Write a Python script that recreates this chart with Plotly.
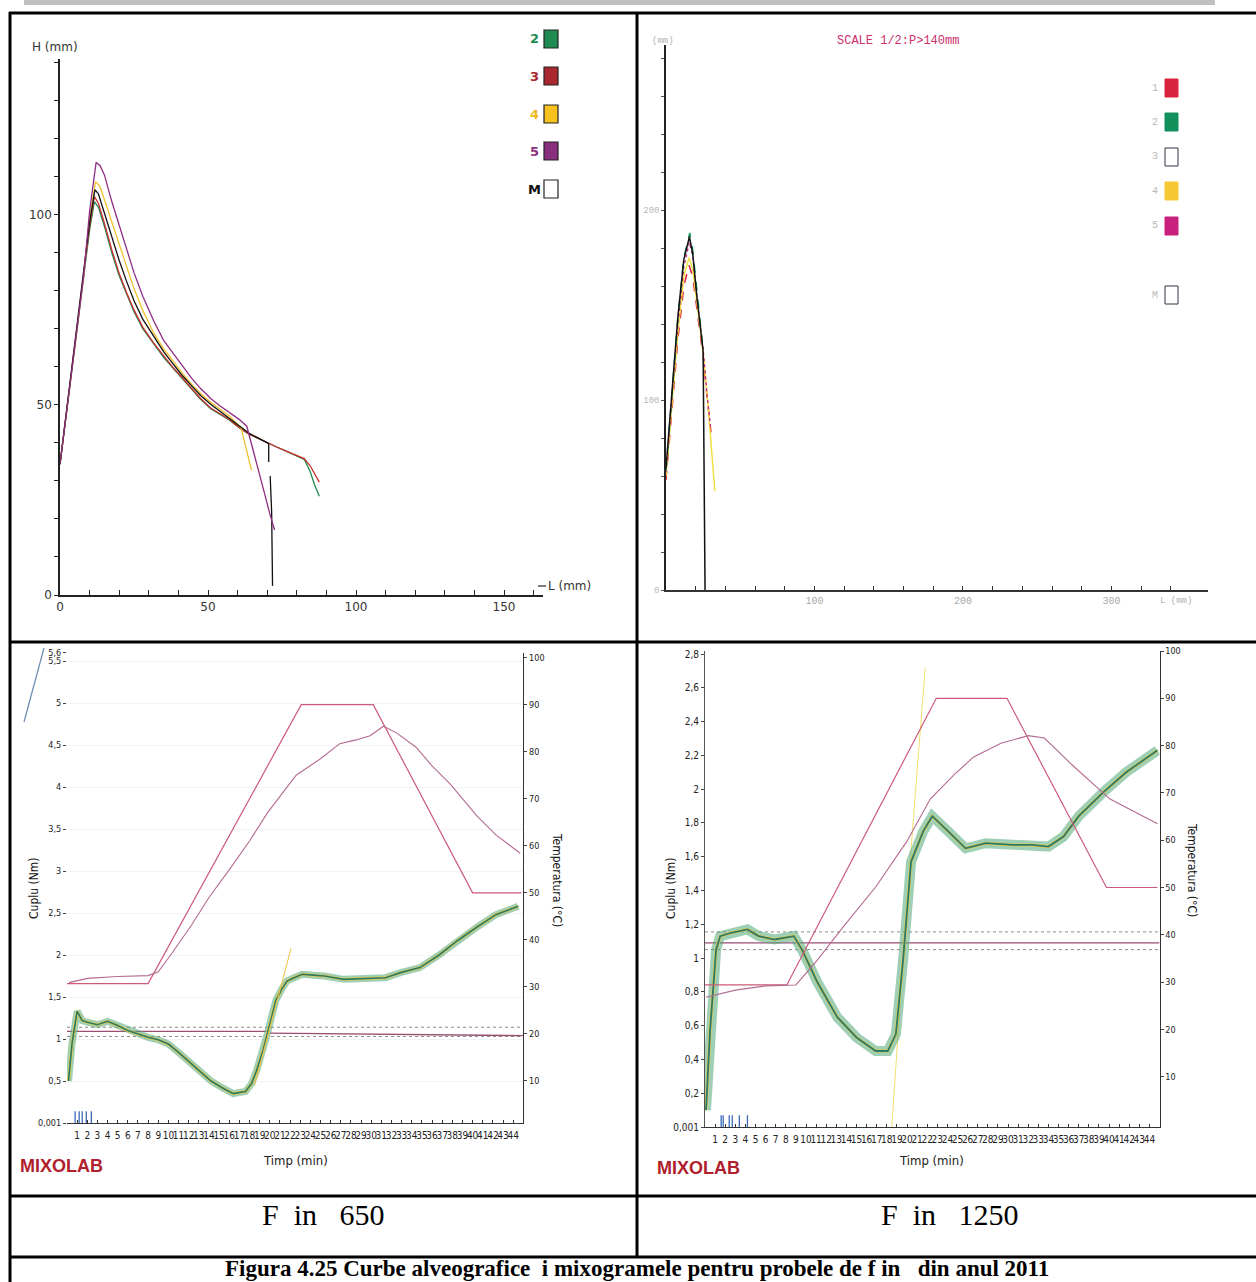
import plotly.graph_objects as go

W, H = 1256, 1282
def fx(p): return p / W
def fy(p): return 1 - p / H

# ---------------- DATA ----------------
# Panel A: alveogram (F 650), L (mm) vs H (mm)
alvA_L_2 = [0, 2, 4, 6, 8, 10, 11.6, 13, 15, 17.5, 20, 22.5, 25, 28, 31.6, 35, 38, 41, 44.5, 47.5, 50.9, 54, 57.3, 60.5, 63.8, 67, 70, 73, 76, 79, 82.5, 84.5, 86, 87.6]
alvA_H_2 = [34.4, 47, 59.5, 72, 84, 96, 103.5, 102, 97, 90, 84, 79, 74.5, 70, 66, 62.5, 59.8, 57.2, 54, 51.5, 49, 47.5, 46, 44, 42.3, 41.2, 40, 39, 38, 37, 35.7, 32.5, 29, 26]
alvA_L_3 = [0, 2, 4, 6, 8, 10, 11.6, 13, 15, 17.5, 20, 22.5, 25, 28, 31.6, 35, 38, 41, 44.5, 47.5, 50.9, 54, 57.3, 60.5, 63.8, 67, 70, 73, 76, 79, 82.5, 84.5, 86, 87.6]
alvA_H_3 = [34.4, 47, 59.5, 72, 84, 97, 104.8, 103, 97.8, 90.8, 84.6, 79.5, 75, 70.4, 66.3, 62.8, 60, 57.4, 54.2, 51.7, 49.2, 47.6, 46.1, 44.1, 42.4, 41.2, 40, 39, 38, 37.1, 35.9, 34, 32, 29.7]
alvA_L_4 = [0, 2, 4, 6, 8, 10, 12, 13.5, 15, 17.5, 20, 22.5, 25, 28, 31.6, 35, 38, 41, 44.5, 47.5, 50.9, 54, 57.3, 61.2, 63, 64.7]
alvA_H_4 = [34.4, 47, 59.5, 72, 84, 99, 108.7, 107.5, 104, 98, 92, 86, 80.6, 74.8, 69, 64.8, 61.7, 58.7, 55.4, 53, 50.7, 48.8, 47, 43.9, 38, 32.8]
alvA_L_5 = [0, 2, 4, 6, 8, 10, 12.2, 13.5, 15, 17.5, 20, 22.5, 25, 28, 31.6, 35, 38, 41, 44.5, 47.5, 50.9, 54, 57.3, 60.5, 63.1, 65, 67, 69, 71, 72.5]
alvA_H_5 = [34.4, 47, 59.5, 72, 84, 101, 113.8, 113, 110.5, 103.5, 97.4, 91, 84.8, 78.5, 72.2, 67, 63.8, 60.5, 57, 54.3, 51.7, 49.8, 48, 46.2, 44.4, 39, 33, 27, 21, 17.1]
alvA_L_M = [0, 2, 4, 6, 8, 10, 11.8, 13, 15, 17.5, 20, 22.5, 25, 28, 31.6, 35, 38, 41, 44.5, 47.5, 50.9, 54, 57.3, 60.5, 63.8, 67, 70.5, 70.5, None, 71, 71.5, 71.8]
alvA_H_M = [34.4, 47, 59.5, 72, 84, 98, 106.6, 105.5, 100.5, 94, 88, 82.5, 77.4, 72.5, 68, 64, 61, 58, 55, 52.5, 50.2, 48.3, 46.5, 44.5, 42.6, 41.2, 39.8, 35, None, 31.3, 21.8, 2.4]
alvA_xticks = [0, 10, 20, 30, 40, 50, 60, 70, 80, 90, 100, 110, 120, 130, 140, 150, 160]
alvA_yticks = [0, 10, 20, 30, 40, 50, 60, 70, 80, 90, 100, 110, 120, 130, 140]
alvA_labels = [0, 50, 100, 150]

# Panel B: alveogram (F 1250), scale 1/2
alvB_L_M = [0, 4, 8, 12, 15.8, 18, 21, 25, 25.5, 26.3]
alvB_H_M = [64, 104, 144, 174, 186, 177, 153, 126, 68.6, 0]
alvB_L_2 = [0, 4, 8, 12, 16, 18, 21, 24.5]
alvB_H_2 = [63, 103, 143, 175, 188, 179, 155, 130]
alvB_L_1 = [0, 4, 8, 12, 15.5, 18, 21, 25, 27.6, 30.3]
alvB_H_1 = [58, 96, 132, 160, 171, 165, 148, 123, 102, 83]
alvB_L_4 = [0, 4, 8, 12, 15.5, 18, 21, 25, 28, 30.5, 32.9]
alvB_H_4 = [60, 99, 136, 165, 175, 169, 151, 125, 100, 76, 52]
alvB_L_5 = [0, 4, 8, 12, 15.7, 18, 21, 25, 27.6, 30]
alvB_H_5 = [62, 101, 140, 170, 183, 176, 153, 127, 103, 86]
alvB_xticks = [0, 20, 40, 60, 80, 100, 120, 140, 160, 180, 200, 220, 240, 260, 280, 300, 320, 340]
alvB_yticks = [0, 20, 40, 60, 80, 100, 120, 140, 160, 180, 200, 220, 240, 260, 280]
alvB_labels = [0, 100, 200, 300]

# Panel C: mixolab F 650
mixC_t_torque = [0.15, 0.5, 1, 1.5, 2, 3, 4, 5, 6, 7, 8, 9, 10, 11, 12, 13, 14.2, 15.3, 16.4, 17.6, 18.2, 18.7, 19.3, 19.8, 20.2, 20.6, 21.2, 21.7, 22.4, 23.2, 24.3, 25.4, 27.3, 29.2, 31.4, 32.9, 34.8, 36.7, 38.5, 40.4, 42.3, 44.5]
mixC_torque = [0.5, 0.95, 1.33, 1.22, 1.2, 1.17, 1.21, 1.16, 1.1, 1.06, 1.02, 0.99, 0.94, 0.84, 0.73, 0.62, 0.5, 0.42, 0.35, 0.375, 0.47, 0.625, 0.85, 1.08, 1.28, 1.46, 1.6, 1.69, 1.73, 1.77, 1.76, 1.75, 1.71, 1.72, 1.73, 1.79, 1.85, 2.0, 2.17, 2.33, 2.48, 2.58]
mixC_t_target = [0, 8, 23.1, 30.2, 40, 44.8]
mixC_T_target = [30.7, 30.7, 90, 90, 50, 50]
mixC_t_meas = [0.2, 2, 5, 8, 9, 10.4, 12.3, 14, 16.1, 18, 19.8, 21.5, 22.6, 25, 26.9, 28.5, 29.9, 31.2, 32.5, 34.4, 36, 37.8, 39, 40.4, 42.3, 44.7]
mixC_T_meas = [30.9, 31.8, 32.2, 32.4, 33.2, 37.3, 43.2, 49, 55.2, 61, 67.1, 72, 75, 78.5, 81.7, 82.5, 83.4, 85.4, 84, 81, 77, 73.1, 70, 66.4, 62.3, 58.4]
mixC_t_yellow = [18.5, 19.8, 21, 22.1]
mixC_yellow = [0.45, 1.05, 1.6, 2.08]
mixC_ref_t1 = [0, 20]
mixC_ref_v1 = [1.09, 1.09]
mixC_ref_t2 = [20, 45]
mixC_ref_v2 = [1.07, 1.04]
mixC_dot_hi = 1.14
mixC_dot_lo = 1.03
mixC_events = [0.8, 1.2, 1.5, 1.9, 2.4]
mixC_torque_ticks = [0, 0.5, 1, 1.5, 2, 2.5, 3, 3.5, 4, 4.5, 5, 5.5, 5.6]
mixC_torque_text = ["0,001", "0,5", "1", "1,5", "2", "2,5", "3", "3,5", "4", "4,5", "5", "5,5", "5,6"]

# Panel D: mixolab F 1250
mixD_t_torque = [0.1, 0.5, 1.1, 1.5, 2.6, 4.2, 5.3, 6.9, 8.8, 9.6, 11.1, 13.1, 15, 16.9, 18.1, 18.9, 19.6, 20.4, 21.6, 22.5, 23.9, 25.8, 27.8, 30.5, 32.4, 34, 35.5, 37, 39.4, 41.7, 44.8]
mixD_torque = [0.1, 0.57, 1.05, 1.13, 1.15, 1.17, 1.13, 1.11, 1.13, 1.05, 0.86, 0.65, 0.53, 0.45, 0.45, 0.55, 0.98, 1.57, 1.75, 1.84, 1.76, 1.65, 1.68, 1.67, 1.67, 1.66, 1.72, 1.84, 1.98, 2.1, 2.23]
mixD_t_target = [0, 8.1, 22.9, 29.9, 39.75, 44.8]
mixD_T_target = [29.4, 29.4, 90, 90, 50, 50]
mixD_t_meas = [0.1, 3, 6, 9, 11.1, 13.8, 16.9, 20, 22.3, 24.7, 26.6, 29.3, 32, 33.6, 36.3, 40.1, 44.8]
mixD_T_meas = [26.8, 28.3, 29.2, 29.4, 34.6, 42, 50.1, 59.8, 68.7, 73.9, 77.6, 80.5, 82.1, 81.6, 76, 68.7, 63.5]
mixD_t_yellow = [18.5, 19.5, 20.6, 21.8]
mixD_yellow = [0.0, 0.9, 1.8, 2.72]
mixD_ref_t = [0, 45]
mixD_ref_v = [1.09, 1.09]
mixD_dot_hi = 1.155
mixD_dot_lo = 1.05
mixD_events = [1.6, 1.8, 2.4, 2.7, 3.4, 4.2]
mixD_torque_ticks = [0, 0.2, 0.4, 0.6, 0.8, 1, 1.2, 1.4, 1.6, 1.8, 2, 2.2, 2.4, 2.6, 2.8]
mixD_torque_text = ["0,001", "0,2", "0,4", "0,6", "0,8", "1", "1,2", "1,4", "1,6", "1,8", "2", "2,2", "2,4", "2,6", "2,8"]

minutes = list(range(1, 45))
temp_ticks = [10, 20, 30, 40, 50, 60, 70, 80, 90, 100]

# legends
legA_names = ["2", "3", "4", "5", "M"]
legA_colors = ["#1f8a52", "#a8282e", "#f7c21e", "#8a2f7e", "#ffffff"]
legB_names = ["1", "2", "3", "4", "5", "M"]
legB_colors = ["#d8243e", "#12905c", "#ffffff", "#f8c832", "#c8207c", "#ffffff"]

# ---------------- FIGURE ----------------
fig = go.Figure()
SANS = "DejaVu Sans"
NARROW = "Liberation Sans Narrow, DejaVu Sans Condensed, Liberation Sans"
MONO = "Liberation Mono, DejaVu Sans Mono"

def line(x, y, xa, ya, color, width=1.3, dash="solid"):
    fig.add_trace(go.Scatter(x=x, y=y, xaxis=xa, yaxis=ya, mode="lines",
                             line=dict(color=color, width=width, dash=dash),
                             showlegend=False, hoverinfo="skip"))

# Panel A curves
line(alvA_L_2, alvA_H_2, "x", "y", "#1f8a52")
line(alvA_L_3, alvA_H_3, "x", "y", "#c8302c")
line(alvA_L_4, alvA_H_4, "x", "y", "#f2c12e")
line(alvA_L_M, alvA_H_M, "x", "y", "#111111")
line(alvA_L_5, alvA_H_5, "x", "y", "#8e2d84")

# Panel B curves
line(alvB_L_1, alvB_H_1, "x2", "y2", "#e0203a", 1.5, "dash")
line(alvB_L_4, alvB_H_4, "x2", "y2", "#f0e040", 1.5)
line(alvB_L_5, alvB_H_5, "x2", "y2", "#c02080", 1.3, "dot")
line(alvB_L_2, alvB_H_2, "x2", "y2", "#139a5a", 1.5, "dash")
line(alvB_L_M, alvB_H_M, "x2", "y2", "#111111", 1.5)

# Panel C
line(mixC_t_target, mixC_T_target, "x3", "y4", "#cc5a78", 1.2)
line(mixC_t_meas, mixC_T_meas, "x3", "y4", "#b46a92", 1.1)
line([0, 45], [mixC_dot_hi, mixC_dot_hi], "x3", "y3", "#8a8a8a", 1, "dot")
line([0, 45], [mixC_dot_lo, mixC_dot_lo], "x3", "y3", "#8a8a8a", 1, "dot")
line(mixC_ref_t1, mixC_ref_v1, "x3", "y3", "#9a4e72", 1.3)
line(mixC_ref_t2, mixC_ref_v2, "x3", "y3", "#9a4e72", 1.3)
for t in mixC_events:
    line([t, t], [0, 0.14], "x3", "y3", "#3a6ab8", 1.3)
line(mixC_t_torque, mixC_torque, "x3", "y3", "rgba(80,170,120,0.55)", 7)
line(mixC_t_torque, mixC_torque, "x3", "y3", "#e6c84a", 3)
line(mixC_t_torque, mixC_torque, "x3", "y3", "#2a7a6a", 1.6)
line(mixC_t_yellow, mixC_yellow, "x3", "y3", "#f0c040", 1)

# Panel D
line(mixD_t_target, mixD_T_target, "x4", "y6", "#cc5a78", 1.2)
line(mixD_t_meas, mixD_T_meas, "x4", "y6", "#b46a92", 1.1)
line([0, 45], [mixD_dot_hi, mixD_dot_hi], "x4", "y5", "#8a8a8a", 1, "dot")
line([0, 45], [mixD_dot_lo, mixD_dot_lo], "x4", "y5", "#8a8a8a", 1, "dot")
line(mixD_ref_t, mixD_ref_v, "x4", "y5", "#9a4e72", 1.3)
for t in mixD_events:
    line([t, t], [0, 0.07], "x4", "y5", "#3a6ab8", 1.3)
line(mixD_t_yellow, mixD_yellow, "x4", "y5", "#f3e070", 1)
line(mixD_t_torque, mixD_torque, "x4", "y5", "rgba(80,170,120,0.55)", 10)
line(mixD_t_torque, mixD_torque, "x4", "y5", "#e6c84a", 3)
line(mixD_t_torque, mixD_torque, "x4", "y5", "#2a7a6a", 1.8)

def lbl(vals, shown, fmt=str):
    return [fmt(v) if v in shown else "" for v in vals]

axcommon = dict(showgrid=False, zeroline=False, showline=True, linecolor="#222", mirror=False)

layout = dict(
    width=W, height=H, margin=dict(l=0, r=0, t=0, b=0, pad=0, autoexpand=False),
    paper_bgcolor="white", plot_bgcolor="rgba(0,0,0,0)", showlegend=False,
    # Panel A
    xaxis=dict(axcommon, domain=[fx(60), fx(542.5)], range=[0, 163], anchor="y",
               tickmode="array", tickvals=alvA_xticks, ticktext=lbl(alvA_xticks, alvA_labels),
               ticks="inside", ticklen=5, tickcolor="#222", linewidth=1.5,
               tickfont=dict(family=SANS, size=12, color="#333")),
    yaxis=dict(axcommon, domain=[fy(595), fy(59)], range=[0, 141], anchor="x",
               tickmode="array", tickvals=alvA_yticks, ticktext=lbl(alvA_yticks, alvA_labels),
               ticks="outside", ticklen=4, tickcolor="#222", linewidth=1.5,
               tickfont=dict(family=SANS, size=12, color="#333")),
    # Panel B
    xaxis2=dict(axcommon, domain=[fx(666), fx(1208)], range=[0, 365], anchor="y2",
                tickmode="array", tickvals=alvB_xticks, ticktext=lbl(alvB_xticks, alvB_labels[1:]),
                ticks="inside", ticklen=4, tickcolor="#333", linecolor="#333", linewidth=1.5,
                tickfont=dict(family=MONO, size=10, color="#a8a8a8")),
    yaxis2=dict(axcommon, domain=[fy(590), fy(45)], range=[0, 287], anchor="x2",
                tickmode="array", tickvals=alvB_yticks, ticktext=lbl(alvB_yticks, alvB_labels),
                ticks="outside", ticklen=3, tickcolor="#555", linecolor="#222", linewidth=1.5,
                tickfont=dict(family=MONO, size=9, color="#b8b8b8")),
    # Panel C
    xaxis3=dict(axcommon, domain=[fx(67), fx(523.3)], range=[0, 45], anchor="y3",
                tickmode="array", tickvals=minutes, ticktext=[str(m) for m in minutes], tickangle=0,
                ticks="inside", ticklen=3, tickcolor="#333", linecolor="#333", linewidth=1,
                ticklabelstandoff=3,
                tickfont=dict(family=NARROW, size=10, color="#222")),
    yaxis3=dict(domain=[fy(1123), fy(652.6)], range=[0, 5.6], anchor="x3",
                showgrid=True, gridcolor="#f3f3f3", zeroline=False, showline=False,
                tickmode="array", tickvals=mixC_torque_ticks, ticktext=mixC_torque_text,
                ticks="outside", ticklen=3, tickcolor="#444",
                tickfont=dict(family=NARROW, size=9, color="#222")),
    yaxis4=dict(axcommon, overlaying="y3", side="right", anchor="x3", range=[1.06, 101.06],
                tickmode="array", tickvals=temp_ticks, ticktext=[str(v) for v in temp_ticks],
                ticks="outside", ticklen=3, tickcolor="#444", linecolor="#333", linewidth=1,
                tickfont=dict(family=NARROW, size=9, color="#222")),
    # Panel D
    xaxis4=dict(axcommon, domain=[fx(705), fx(1159.5)], range=[0, 45], anchor="y5",
                tickmode="array", tickvals=minutes, ticktext=[str(m) for m in minutes], tickangle=0,
                ticks="inside", ticklen=3, tickcolor="#333", linecolor="#333", linewidth=1,
                ticklabelstandoff=3,
                tickfont=dict(family=NARROW, size=10, color="#222")),
    yaxis5=dict(axcommon, domain=[fy(1127), fy(651)], range=[0, 2.818], anchor="x4",
                tickmode="array", tickvals=mixD_torque_ticks, ticktext=mixD_torque_text,
                ticks="outside", ticklen=3, tickcolor="#444", linecolor="#555", linewidth=1,
                tickfont=dict(family=NARROW, size=10, color="#222")),
    yaxis6=dict(axcommon, overlaying="y5", side="right", anchor="x4", range=[-0.63, 100.0],
                tickmode="array", tickvals=temp_ticks, ticktext=[str(v) for v in temp_ticks],
                ticks="outside", ticklen=3, tickcolor="#444", linecolor="#333", linewidth=1,
                tickfont=dict(family=NARROW, size=9, color="#222")),
)
fig.update_layout(**layout)

shapes = []
ann = []

def pline(x0, y0, x1, y1, color="black", width=3):
    shapes.append(dict(type="line", xref="paper", yref="paper", x0=fx(x0), y0=fy(y0),
                       x1=fx(x1), y1=fy(y1), line=dict(color=color, width=width), layer="above"))

def text(x, y, s, size=12, color="#222", family=SANS, angle=0, xanchor="center", bold=False):
    if bold:
        s = "<b>" + s + "</b>"
    ann.append(dict(xref="paper", yref="paper", x=fx(x), y=fy(y), text=s, showarrow=False,
                    font=dict(size=size, color=color, family=family), textangle=angle,
                    xanchor=xanchor, yanchor="middle"))

# page decoration: grey bar and table borders
shapes.append(dict(type="rect", xref="paper", yref="paper", x0=fx(24), x1=fx(1215), y0=fy(0), y1=fy(5),
                   fillcolor="#c0c0c0", line=dict(width=0), layer="above"))
pline(9, 13, 1256, 13)
pline(10, 12, 10, 1282)
pline(637, 13, 637, 1257)
pline(10, 642, 1256, 642)
pline(10, 1196, 1256, 1196)
pline(10, 1257, 1256, 1257)

# Panel A texts and legend
text(55, 47, "H (mm)", 12, "#333")
text(546, 586, "L (mm)", 12, "#333", xanchor="left")
pline(538, 586, 546, 586, "#222", 1.2)
legA_y = [39, 76, 114, 151, 189]
for name, col, yy in zip(legA_names, legA_colors, legA_y):
    shapes.append(dict(type="rect", xref="paper", yref="paper", x0=fx(544), x1=fx(558),
                       y0=fy(yy + 9), y1=fy(yy - 9), fillcolor=col,
                       line=dict(color="#222", width=1.2), layer="above"))
    tcol = "#111" if name == "M" else (col if name != "4" else "#f0b820")
    text(534, yy, name, 13, tcol, bold=True)

# Panel B texts and legend
text(663, 41, "(mm)", 9, "#b0b0b0", MONO)
text(898, 41, "SCALE 1/2:P&gt;140mm", 12, "#cc2f6c", MONO)
text(1176, 601, "L (mm)", 9, "#b0b0b0", MONO)
legB_y = [88, 122, 157, 191, 226, 295]
for name, col, yy in zip(legB_names, legB_colors, legB_y):
    border = col if col != "#ffffff" else "#334"
    shapes.append(dict(type="rect", xref="paper", yref="paper", x0=fx(1165), x1=fx(1178),
                       y0=fy(yy + 9), y1=fy(yy - 9), fillcolor=col,
                       line=dict(color=border, width=1), layer="above"))
    text(1155, yy, name, 10, "#b8b8b8", MONO)

# Panel C texts
text(34, 888, "Cuplu (Nm)", 12, "#111", NARROW, angle=-90)
text(557, 880, "Temperatura (°C)", 12, "#111", NARROW, angle=90)
text(295, 1160, "Timp (min)", 13, "#222", NARROW)
text(61, 1166, "MIXOLAB", 18, "#b0202c", "Liberation Sans Narrow, Liberation Sans", bold=True)
pline(24, 722, 44, 648, "#6a8ab0", 1.2)

# Panel D texts
text(671, 888, "Cuplu (Nm)", 12, "#111", NARROW, angle=-90)
text(1192, 870, "Temperatura (°C)", 12, "#111", NARROW, angle=90)
text(932, 1160, "Timp (min)", 13, "#222", NARROW)
text(698, 1168, "MIXOLAB", 18, "#b0202c", "Liberation Sans Narrow, Liberation Sans", bold=True)

# captions
SERIF = "Liberation Serif, Times New Roman, serif"
text(323, 1214, "F  in   650", 30, "#000", SERIF)
text(950, 1214, "F  in   1250", 30, "#000", SERIF)
text(637, 1268, "Figura 4.25 Curbe alveografice  i mixogramele pentru probele de f in   din anul 2011", 23, "#000", SERIF, bold=True)

fig.update_layout(shapes=shapes, annotations=ann)
fig.write_html("out.html", config={"displayModeBar": False})

# remove the browser's default page margin so that the figure sits at (0, 0)
with open("out.html", "r", encoding="utf-8") as f:
    html = f.read()
html = html.replace("<head>", "<head><style>html,body{margin:0;padding:0;overflow:hidden;background:white}</style>", 1)
with open("out.html", "w", encoding="utf-8") as f:
    f.write(html)
